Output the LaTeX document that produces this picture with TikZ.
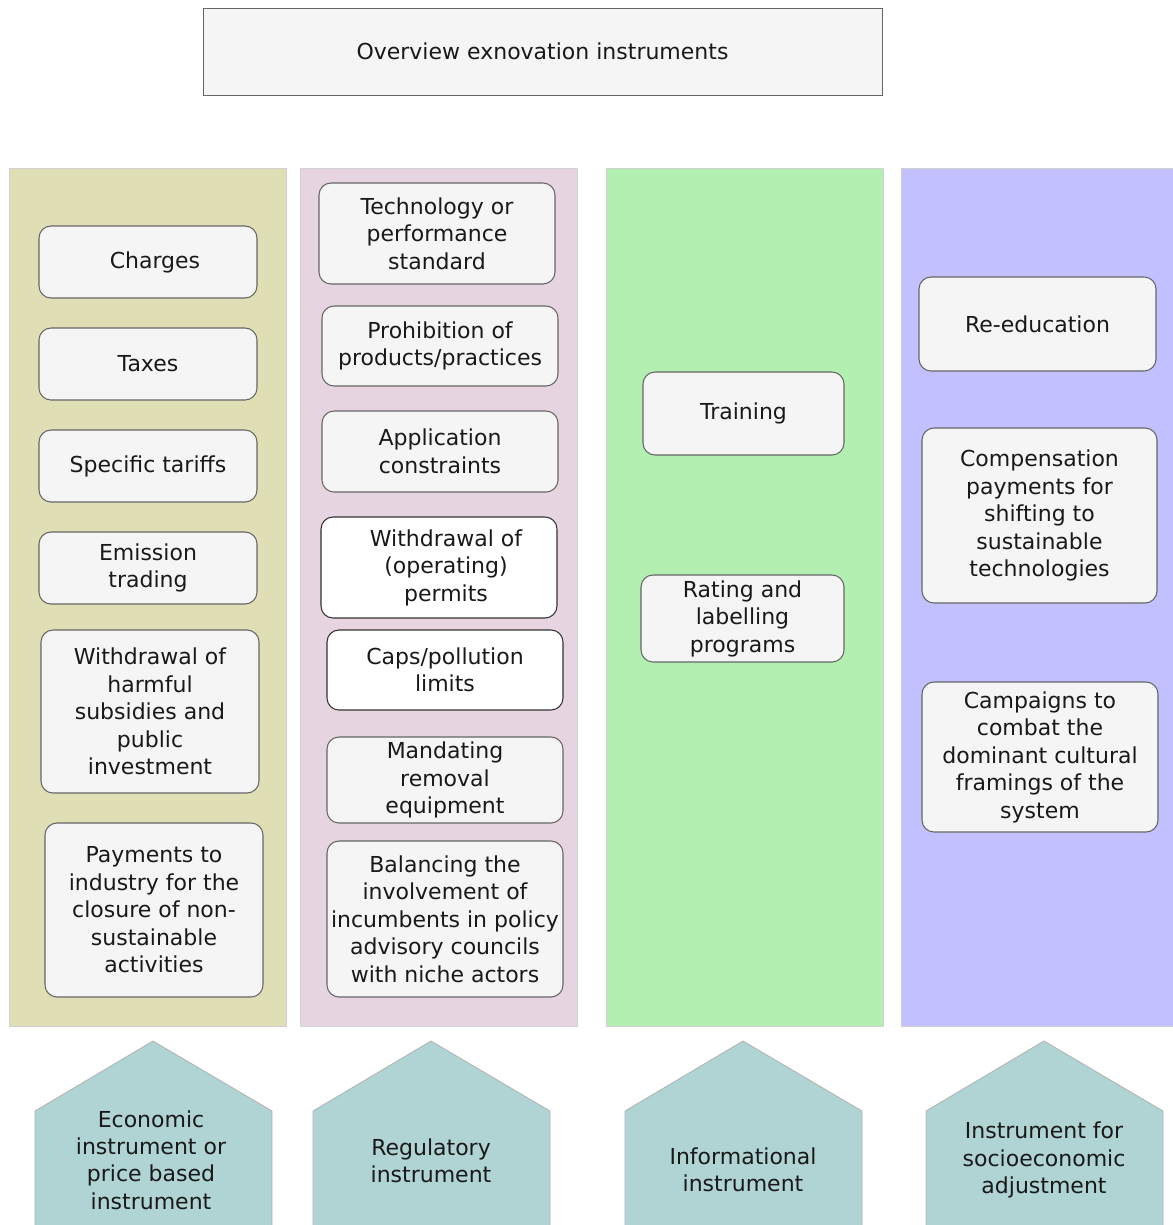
\documentclass[tikz,border=0pt]{standalone}
\usepackage{fontspec}
\setmainfont{DejaVu Sans}
\definecolor{BoxFill}{HTML}{F5F5F5}
\definecolor{BoxLine}{HTML}{666666}
\definecolor{EcoCol}{HTML}{E0DEB4}
\definecolor{RegCol}{HTML}{E6D4E0}
\definecolor{InfCol}{HTML}{B3EFB1}
\definecolor{SocCol}{HTML}{C2C0FE}
\definecolor{TypeFill}{HTML}{B0D3D3}
\usepackage{tikz}
\usetikzlibrary{positioning}
\newlength\pxu
\setlength\pxu{0.75pt}

\begin{document}
\begin{tikzpicture}[x=0.75pt, y=-0.75pt,
      every node/.style={font=\fontsize{16.5}{20.6}\selectfont, text=black!90, align=center, inner sep=0pt},
      sz/.style 2 args={minimum width=#1\pxu, minimum height=#2\pxu},
      col/.style={rectangle, draw=black!18, fill=#1},
      inst/.style={rectangle, rounded corners=9pt, draw=BoxLine, fill=BoxFill, line width=0.8pt},
      instw/.style={inst, draw=black!80, fill=white},
      kind/.style={draw=black!30, fill=TypeFill, line width=0.6pt}]
      \useasboundingbox (0,0) rectangle (1173,1225);
      \clip (0,0) rectangle (1173,1225);
      % title
      \node[rectangle, draw=BoxLine, fill=BoxFill, sz={679}{87}] (title) at (542.5,51.5) {Overview exnovation instruments};
      % columns
      \node[col=EcoCol, sz={277}{858}] (eco) at (147.5,597) {};
      \node[col=RegCol, sz={277}{858}] (reg) at (438.5,597) {};
      \node[col=InfCol, sz={277}{858}] (inf) at (744.5,597) {};
      \node[col=SocCol, sz={272}{858}] (soc) at (1037,597) {};
      % economic
      \node[inst, sz={218}{72}] (charges) at (148,262) {\ \ Charges};
      \node[inst, sz={218}{72}] (taxes) at (148,364) {Taxes};
      \node[inst, sz={218}{72}] (tariffs) at (148,466) {Specific tariffs};
      \node[inst, sz={218}{72}] (emission) at (148,568) {Emission\\trading};
      \node[inst, sz={218}{163}] (subsidies) at (150,711.5) {Withdrawal of\\harmful\\subsidies and\\public\\investment};
      \node[inst, sz={218}{174}] (payments) at (154,910) {Payments to\\industry for the\\closure of non-\\sustainable\\activities};
      % regulatory
      \node[inst, sz={236}{101}] (standard) at (437,233.5) {Technology or\\performance\\standard};
      \node[inst, sz={236}{80}] (prohibit) at (440,346) {Prohibition of\\products/practices};
      \node[inst, sz={236}{81}] (constraints) at (440,451.5) {Application\\constraints};
      \node[instw, sz={236}{101}] (permits) at (439,567.5) {\ \ Withdrawal of\\\ \ (operating)\\\ \ permits};
      \node[instw, sz={236}{80}] (caps) at (445,670) {Caps/pollution\\limits};
      \node[inst, sz={236}{86}] (mandate) at (445,780) {Mandating\\removal\\equipment};
      \node[inst, sz={236}{156}] (balance) at (445,919) {Balancing the\\involvement of\\incumbents in policy\\advisory councils\\with niche actors};
      % informational
      \node[inst, sz={201}{83}] (training) at (743.5,413.5) {Training};
      \node[inst, sz={203}{87}] (rating) at (742.5,618.5) {Rating and\\labelling\\programs};
      % socioeconomic
      \node[inst, sz={237}{94}] (reedu) at (1037.5,324) {Re-education};
      \node[inst, sz={235}{175}] (compens) at (1039.5,515.5) {Compensation\\payments for\\shifting to\\sustainable\\technologies};
      \node[inst, sz={236}{150}] (campaign) at (1040,757) {Campaigns to\\combat the\\dominant cultural\\framings of the\\system};
      % instrument types
      \draw[kind] (35,1235) -- (35,1111) -- (153,1041) -- (272,1111) -- (272,1235) -- cycle;
      \draw[kind] (313,1235) -- (313,1111) -- (431,1041) -- (550,1111) -- (550,1235) -- cycle;
      \draw[kind] (625,1235) -- (625,1111) -- (743,1041) -- (862,1111) -- (862,1235) -- cycle;
      \draw[kind] (926,1235) -- (926,1111) -- (1044,1041) -- (1163,1111) -- (1163,1235) -- cycle;
      \node (ecokind) at (151,1160) {Economic\\instrument or\\price based\\instrument};
      \node (regkind) at (431,1161) {Regulatory\\instrument};
      \node (infkind) at (743,1170) {Informational\\instrument};
      \node (sockind) at (1044,1160) {Instrument for\\socioeconomic\\adjustment};
    \end{tikzpicture}
\end{document}
